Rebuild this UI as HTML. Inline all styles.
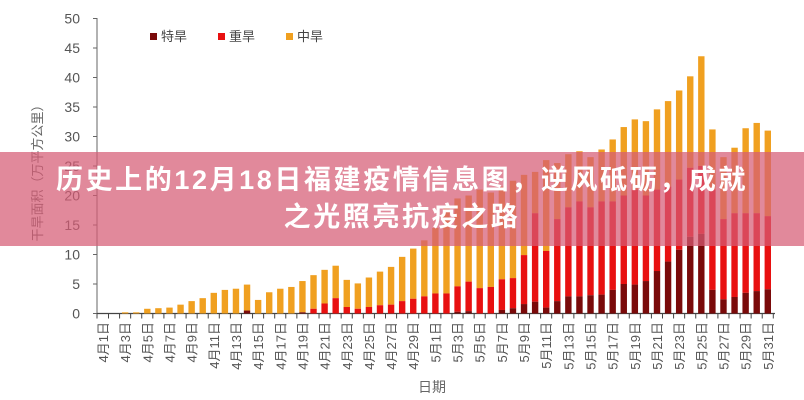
<!DOCTYPE html>
<html><head><meta charset="utf-8"><style>
html,body{margin:0;padding:0;background:#fff;}
#w{position:relative;width:804px;height:400px;overflow:hidden;font-family:"Liberation Sans","Noto Sans CJK SC",sans-serif;}
#banner{position:absolute;left:0;top:152px;width:804px;height:94px;background:rgba(214,92,116,0.72);}
#t{position:absolute;left:0;top:162px;width:804px;text-align:center;color:#fff;font-weight:bold;font-size:27px;letter-spacing:2.6px;line-height:37px;font-family:"Liberation Sans","Noto Sans CJK SC",sans-serif;}
</style></head><body><div id="w">
<svg id="s" width="804" height="400" xmlns="http://www.w3.org/2000/svg"></svg>
<div id="banner"></div>
<div id="t">历史上的12月18日福建疫情信息图，逆风砥砺，成就<br>之光照亮抗疫之路</div>
</div>
<script>
var tot=[0,0,0.2,0.2,0.8,0.9,1,1.5,2.1,2.6,3.5,4,4.2,4.9,2.3,3.6,4.2,4.5,5.5,6.5,7.4,8.1,5.7,5.1,6.1,7.1,7.9,9.6,11,12.4,
14.5,18,19.5,20,21,20.5,21.5,22.5,23.5,24,26,25.5,27,27.5,26.5,27.8,29.5,31.6,32.9,32.6,34.6,36,37.8,40.2,43.6,31.2,26.5,28.1,31.4,32.3,31];
var red=[0,0,0,0,0,0,0,0,0,0,0,0,0,0.5,0,0,0,0,0.2,0.8,1.7,2.6,1.1,0.8,1.1,1.4,1.5,2.1,2.5,2.9,
3.4,3.4,4.6,5.4,4.3,4.5,5.8,6,9.9,17,10.6,16,18,19,18,19,19,20,21,20,21,21.5,22.7,24.7,25,21,16,17,17,17,16.5];
var dk=[0,0,0,0,0,0,0,0,0,0,0,0,0,0.5,0,0,0,0,0.2,0,0,0,0,0,0,0,0,0,0,0,
0,0,0.3,0.4,0,0,0.6,0.9,1.6,2,1,2.1,2.9,2.9,3.1,3.2,4,5,4.9,5.5,7.2,8.8,10.8,13,13.5,4,2.4,2.8,3.5,3.8,4.1];
var B=313.5,K=5.9,s='';
function R(x,y,w,h,c){return '<rect x="'+x+'" y="'+y+'" width="'+w+'" height="'+h+'" fill="'+c+'"/>';}
s+='<line x1="97" y1="18" x2="97" y2="'+B+'" stroke="#666" stroke-width="1"/>';
for(var v=0;v<=50;v+=5){var y=B-v*K;s+='<line x1="93" y1="'+y+'" x2="97" y2="'+y+'" stroke="#666"/>';
s+='<text x="80" y="'+(y+5)+'" font-size="14" fill="#555" text-anchor="end" font-family="Liberation Sans,sans-serif">'+v+'</text>';}
s+='<line x1="97" y1="'+B+'" x2="775" y2="'+B+'" stroke="#444" stroke-width="1.2"/>';
for(var i=0;i<61;i++){var cx=103+i*11.08,x=cx-3.2;
 var t=tot[i],r=red[i],d=dk[i];
 if(t>0)s+=R(x,B-t*K,6.4,(t-r)*K,'#f0a020');
 if(r>d)s+=R(x,B-r*K,6.4,(r-d)*K,'#e81010');
 if(d>0)s+=R(x,B-d*K,6.4,d*K,'#7a0a0a');
 var tx=cx+5.5;s+='<line x1="'+tx+'" y1="'+B+'" x2="'+tx+'" y2="'+(B+5)+'" stroke="#444"/>';
 if(i%2==0){var lb=(i<30?'4月'+(i+1):'5月'+(i-29))+'日';
 s+='<text transform="translate('+(cx+5)+',322) rotate(-90)" font-size="13" fill="#555" text-anchor="end" font-family="Liberation Sans,Noto Sans CJK SC,sans-serif">'+lb+'</text>';}
}
s+='<line x1="97" y1="'+B+'" x2="97" y2="'+(B+5)+'" stroke="#444"/>';
s+='<text x="432" y="392" font-size="14" fill="#666" text-anchor="middle" font-family="Noto Sans CJK SC,sans-serif">日期</text>';
s+='<text transform="translate(42,170) rotate(-90)" font-size="13" fill="#666" text-anchor="middle" font-family="Noto Sans CJK SC,sans-serif">干旱面积（万平方公里）</text>';
var lg=[[150,'#7a0a0a','特旱'],[218,'#e81010','重旱'],[286,'#f0a020','中旱']];
lg.forEach(function(a){s+=R(a[0],33,7,7,a[1])+'<text x="'+(a[0]+11)+'" y="41" font-size="13" fill="#444" font-family="Noto Sans CJK SC,sans-serif">'+a[2]+'</text>';});
document.getElementById('s').innerHTML=s;
</script>
</body></html>
